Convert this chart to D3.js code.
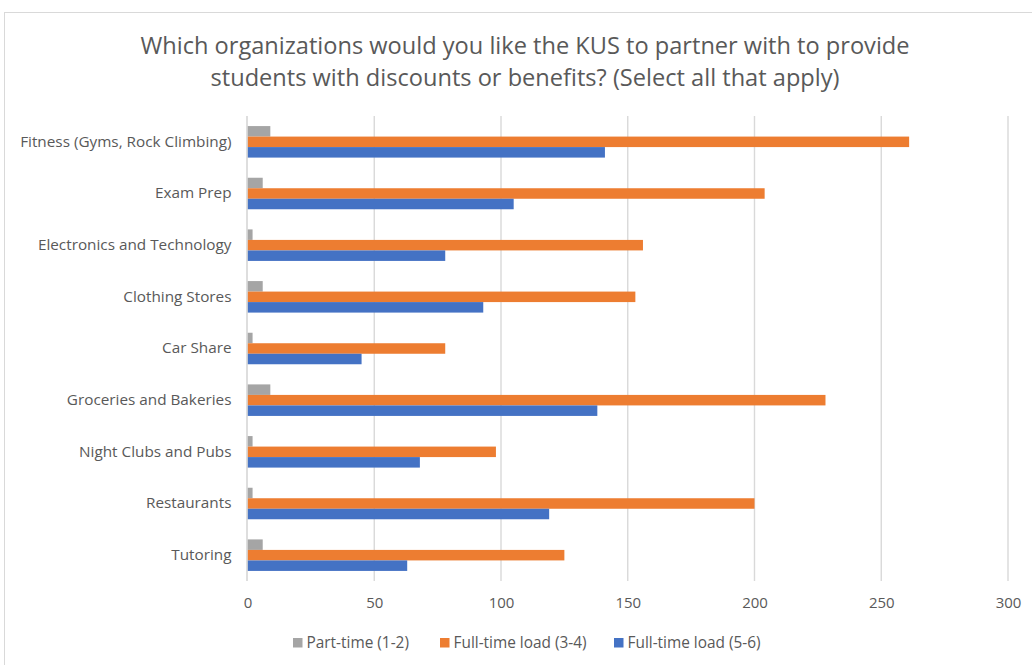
<!DOCTYPE html>
<html>
<head>
<meta charset="utf-8">
<script src="https://cdn.jsdelivr.net/npm/d3@7"></script>
<style>
  html, body { margin: 0; padding: 0; background: #fff; }
  svg { display: block; font-family: "Open Sans", Lato, sans-serif; }
</style>
</head>
<body>
<svg id="chart" width="1032" height="665"></svg>
<script>
// Survey responses per organization type, grouped by course load
const categories = [
  "Fitness (Gyms, Rock Climbing)",
  "Exam Prep",
  "Electronics and Technology",
  "Clothing Stores",
  "Car Share",
  "Groceries and Bakeries",
  "Night Clubs and Pubs",
  "Restaurants",
  "Tutoring"
];
const seriesNames = ["Part-time (1-2)", "Full-time load (3-4)", "Full-time load (5-6)"];
const partTime   = [9, 6, 2, 6, 2, 9, 2, 2, 6];
const fullTime34 = [261, 204, 156, 153, 78, 228, 98, 200, 125];
const fullTime56 = [141, 105, 78, 93, 45, 138, 68, 119, 63];
const xTicks = [0, 50, 100, 150, 200, 250, 300];
const titleLines = [
  "Which organizations would you like the KUS to partner with to provide",
  "students with discounts or benefits? (Select all that apply)"
];

const colors = ["#A5A5A5", "#ED7D31", "#4472C4"];
const seriesValues = [partTime, fullTime34, fullTime56];
const textColor = "#595959";
const fontFamily = "'Open Sans', Lato, sans-serif";

const svg = d3.select("#chart");

// chart frame
svg.append("rect")
  .attr("x", 4.5).attr("y", 12.5)
  .attr("width", 1100).attr("height", 700)
  .attr("fill", "#fff").attr("stroke", "#D9D9D9");

// title
svg.append("g").selectAll("text").data(titleLines).join("text")
  .attr("x", 525).attr("y", (d, i) => 54 + i * 32)
  .attr("text-anchor", "middle")
  .attr("font-size", 23.6)
  .attr("fill", textColor)
  .text(d => d);

const plot = { left: 247.5, right: 1008, top: 116, bottom: 581 };

const x = d3.scaleLinear().domain([0, 300]).range([plot.left, plot.right]);
const y = d3.scaleBand().domain(categories).range([plot.top, plot.bottom])
  .paddingInner(0.39).paddingOuter(0.195);
const ySub = d3.scaleBand().domain(d3.range(seriesNames.length)).range([0, y.bandwidth()]);

// vertical gridlines
svg.append("g").selectAll("line").data(xTicks.slice(1)).join("line")
  .attr("x1", d => x(d)).attr("x2", d => x(d))
  .attr("y1", plot.top).attr("y2", plot.bottom)
  .attr("stroke", "#D9D9D9").attr("stroke-width", 1.4);

// bars
const rows = categories.map((c, i) => ({ c, vals: seriesValues.map(s => s[i]) }));
const groups = svg.append("g").selectAll("g").data(rows).join("g")
  .attr("transform", d => `translate(0,${y(d.c)})`);
groups.selectAll("rect").data(d => d.vals.map((v, k) => ({ v, k }))).join("rect")
  .attr("x", x(0))
  .attr("y", d => ySub(d.k))
  .attr("width", d => x(d.v) - x(0))
  .attr("height", ySub.bandwidth())
  .attr("fill", d => colors[d.k]);

// category axis line
svg.append("line")
  .attr("x1", x(0) - 0.5).attr("x2", x(0) - 0.5)
  .attr("y1", plot.top).attr("y2", plot.bottom)
  .attr("stroke", "#D0D0D0").attr("stroke-width", 1.4);

// category labels
const yAxis = d3.axisLeft(y).tickSize(0).tickPadding(16);
const gy = svg.append("g").attr("transform", `translate(${x(0)},0)`).call(yAxis);
gy.select(".domain").remove();
gy.selectAll("text")
  .attr("font-family", fontFamily)
  .attr("font-size", 15.3).attr("fill", textColor);

// value axis labels
const xAxis = d3.axisBottom(x).tickValues(xTicks).tickSize(0).tickPadding(16);
const gx = svg.append("g").attr("transform", `translate(0,${plot.bottom})`).call(xAxis);
gx.select(".domain").remove();
gx.selectAll("text")
  .attr("font-family", fontFamily)
  .attr("font-size", 15).attr("fill", textColor);

// legend
const legendX = [293, 440, 614];
const legend = svg.append("g").selectAll("g").data(seriesNames).join("g")
  .attr("transform", (d, i) => `translate(${legendX[i]},648)`);
legend.append("rect")
  .attr("x", 0).attr("y", -10).attr("width", 9.5).attr("height", 9.5)
  .attr("fill", (d, i) => colors[i]);
legend.append("text")
  .attr("x", 13.5).attr("y", 0)
  .attr("font-size", 15.4).attr("fill", textColor)
  .text(d => d);
</script>
</body>
</html>
